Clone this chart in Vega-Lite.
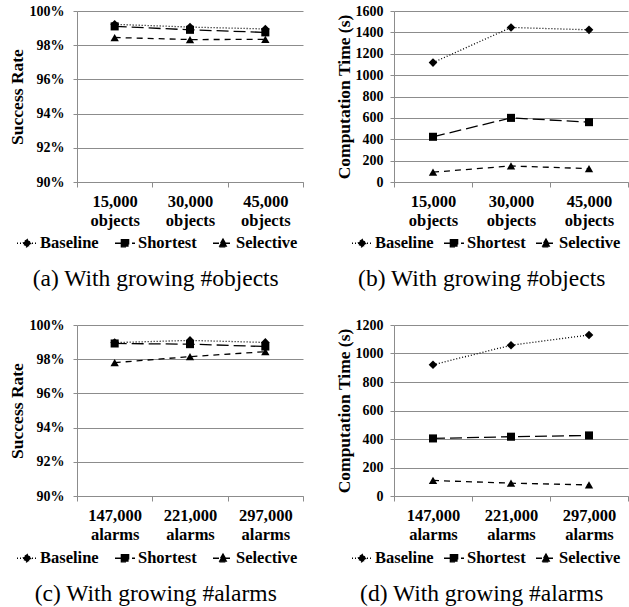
{
  "$schema": "https://vega.github.io/schema/vega-lite/v6.json",
  "background": "white",
  "padding": {"left": 8, "top": 4, "right": 0, "bottom": 0},
  "datasets": {
    "objRate": [
      {"n": "15,000 objects", "method": "Baseline", "value": 99.22},
      {"n": "30,000 objects", "method": "Baseline", "value": 99.06},
      {"n": "45,000 objects", "method": "Baseline", "value": 98.95},
      {"n": "15,000 objects", "method": "Shortest", "value": 99.1},
      {"n": "30,000 objects", "method": "Shortest", "value": 98.9},
      {"n": "45,000 objects", "method": "Shortest", "value": 98.75},
      {"n": "15,000 objects", "method": "Selective", "value": 98.45},
      {"n": "30,000 objects", "method": "Selective", "value": 98.33},
      {"n": "45,000 objects", "method": "Selective", "value": 98.34}
    ],
    "objTime": [
      {"n": "15,000 objects", "method": "Baseline", "value": 1117},
      {"n": "30,000 objects", "method": "Baseline", "value": 1446},
      {"n": "45,000 objects", "method": "Baseline", "value": 1424},
      {"n": "15,000 objects", "method": "Shortest", "value": 423},
      {"n": "30,000 objects", "method": "Shortest", "value": 600},
      {"n": "45,000 objects", "method": "Shortest", "value": 560},
      {"n": "15,000 objects", "method": "Selective", "value": 92},
      {"n": "30,000 objects", "method": "Selective", "value": 150},
      {"n": "45,000 objects", "method": "Selective", "value": 125}
    ],
    "alarmRate": [
      {"n": "147,000 alarms", "method": "Baseline", "value": 98.97},
      {"n": "221,000 alarms", "method": "Baseline", "value": 99.1},
      {"n": "297,000 alarms", "method": "Baseline", "value": 98.98},
      {"n": "147,000 alarms", "method": "Shortest", "value": 98.92},
      {"n": "221,000 alarms", "method": "Shortest", "value": 98.88},
      {"n": "297,000 alarms", "method": "Shortest", "value": 98.74},
      {"n": "147,000 alarms", "method": "Selective", "value": 97.8},
      {"n": "221,000 alarms", "method": "Selective", "value": 98.15},
      {"n": "297,000 alarms", "method": "Selective", "value": 98.44}
    ],
    "alarmTime": [
      {"n": "147,000 alarms", "method": "Baseline", "value": 921},
      {"n": "221,000 alarms", "method": "Baseline", "value": 1058},
      {"n": "297,000 alarms", "method": "Baseline", "value": 1130},
      {"n": "147,000 alarms", "method": "Shortest", "value": 404},
      {"n": "221,000 alarms", "method": "Shortest", "value": 416},
      {"n": "297,000 alarms", "method": "Shortest", "value": 425},
      {"n": "147,000 alarms", "method": "Selective", "value": 109},
      {"n": "221,000 alarms", "method": "Selective", "value": 90},
      {"n": "297,000 alarms", "method": "Selective", "value": 78}
    ]
  },
  "config": {
    "view": {"stroke": null},
    "font": "Liberation Serif",
    "axis": {
      "domainColor": "#8c8c8c",
      "tickColor": "#8c8c8c",
      "gridColor": "#8c8c8c",
      "gridOpacity": 1,
      "labelFont": "Liberation Serif",
      "labelFontWeight": "bold",
      "labelColor": "black",
      "titleFont": "Liberation Serif",
      "titleFontWeight": "bold",
      "titleColor": "black"
    },
    "axisX": {
      "grid": false,
      "tickBand": "extent",
      "tickSize": 5,
      "labelFontSize": 16.5,
      "labelLineHeight": 19,
      "labelPadding": 6,
      "labelAngle": 0,
      "labelExpr": "split(datum.label, ' ')",
      "title": null
    },
    "axisY": {
      "grid": true,
      "tickSize": 4,
      "labelFontSize": 14,
      "titleFontSize": 17.5,
      "titlePadding": 3
    },
    "legend": {
      "orient": "none",
      "direction": "horizontal",
      "title": null,
      "labelFont": "Liberation Serif",
      "labelFontWeight": "bold",
      "labelFontSize": 16.5,
      "labelColor": "black",
      "labelOffset": 2,
      "columnPadding": 12,
      "symbolSize": 400,
      "symbolStrokeWidth": 1.4,
      "symbolStrokeColor": "black",
      "symbolFillColor": "black",
      "symbolType": {"expr": "datum.value === 'Baseline' ? 'M-1,0H1M0,-0.42L0.42,0L0,0.42L-0.42,0Z' : datum.value === 'Shortest' ? 'M-1,0H1M-0.36,-0.36H0.36V0.36H-0.36Z' : 'M-1,0H1M0,-0.42L0.44,0.36H-0.44Z'"},
      "padding": 0
    },
    "title": {
      "orient": "bottom",
      "font": "Liberation Serif",
      "fontWeight": "normal",
      "fontSize": 23.5,
      "color": "black",
      "anchor": "middle",
      "frame": "bounds",
      "offset": 15
    }
  },
  "concat": [
    {
      "title": "(a) With growing #objects",
      "data": {"name": "objRate"},
      "width": 226,
      "height": 171,
      "encoding": {
        "x": {"field": "n", "type": "ordinal", "sort": null, "scale": {"type": "band", "paddingInner": 0, "paddingOuter": 0}},
        "y": {"field": "value", "type": "quantitative", "scale": {"domain": [90, 100]},
              "axis": {"title": "Success Rate", "values": [90, 92, 94, 96, 98, 100], "labelExpr": "datum.value + '%'", "labelPadding": 9}}
      },
      "layer": [
        {"mark": {"type": "line", "color": "black", "strokeWidth": 1.3},
         "encoding": {"strokeDash": {"field": "method", "type": "nominal",
           "scale": {"domain": ["Baseline", "Shortest", "Selective"], "range": [[1, 2], [12, 5], [6, 5]]},
           "legend": {"legendX": -61, "legendY": 221, "columnPadding": 13, "encode": {"symbols": {"update": {"fill": {"value": "black"}, "stroke": {"value": "black"}, "strokeWidth": {"value": 1.4}}}}}}}},
        {"transform": [{"filter": "datum.method === 'Baseline'"}],
         "mark": {"type": "point", "shape": "diamond", "filled": true, "opacity": 1, "color": "black", "size": 75}},
        {"transform": [{"filter": "datum.method === 'Shortest'"}],
         "mark": {"type": "point", "shape": "square", "filled": true, "opacity": 1, "color": "black", "size": 65}},
        {"transform": [{"filter": "datum.method === 'Selective'"}],
         "mark": {"type": "point", "shape": "triangle-up", "filled": true, "opacity": 1, "color": "black", "size": 70}}
      ]
    },
    {
      "title": "(b) With growing #objects",
      "data": {"name": "objTime"},
      "width": 234,
      "height": 171,
      "encoding": {
        "x": {"field": "n", "type": "ordinal", "sort": null, "scale": {"type": "band", "paddingInner": 0, "paddingOuter": 0}},
        "y": {"field": "value", "type": "quantitative", "scale": {"domain": [0, 1600]},
              "axis": {"title": "Computation Time (s)", "values": [0, 200, 400, 600, 800, 1000, 1200, 1400, 1600], "format": "d", "labelPadding": 7, "titlePadding": 2}}
      },
      "layer": [
        {"mark": {"type": "line", "color": "black", "strokeWidth": 1.3},
         "encoding": {"strokeDash": {"field": "method", "type": "nominal",
           "scale": {"domain": ["Baseline", "Shortest", "Selective"], "range": [[1, 2], [12, 5], [6, 5]]},
           "legend": {"legendX": -43, "legendY": 221, "columnPadding": 7, "encode": {"symbols": {"update": {"fill": {"value": "black"}, "stroke": {"value": "black"}, "strokeWidth": {"value": 1.4}}}}}}}},
        {"transform": [{"filter": "datum.method === 'Baseline'"}],
         "mark": {"type": "point", "shape": "diamond", "filled": true, "opacity": 1, "color": "black", "size": 75}},
        {"transform": [{"filter": "datum.method === 'Shortest'"}],
         "mark": {"type": "point", "shape": "square", "filled": true, "opacity": 1, "color": "black", "size": 65}},
        {"transform": [{"filter": "datum.method === 'Selective'"}],
         "mark": {"type": "point", "shape": "triangle-up", "filled": true, "opacity": 1, "color": "black", "size": 70}}
      ]
    },
    {
      "title": "(c) With growing #alarms",
      "data": {"name": "alarmRate"},
      "width": 226,
      "height": 171,
      "encoding": {
        "x": {"field": "n", "type": "ordinal", "sort": null, "scale": {"type": "band", "paddingInner": 0, "paddingOuter": 0}},
        "y": {"field": "value", "type": "quantitative", "scale": {"domain": [90, 100]},
              "axis": {"title": "Success Rate", "values": [90, 92, 94, 96, 98, 100], "labelExpr": "datum.value + '%'", "labelPadding": 9}}
      },
      "layer": [
        {"mark": {"type": "line", "color": "black", "strokeWidth": 1.3},
         "encoding": {"strokeDash": {"field": "method", "type": "nominal",
           "scale": {"domain": ["Baseline", "Shortest", "Selective"], "range": [[1, 2], [12, 5], [6, 5]]},
           "legend": {"legendX": -61, "legendY": 222, "columnPadding": 13, "encode": {"symbols": {"update": {"fill": {"value": "black"}, "stroke": {"value": "black"}, "strokeWidth": {"value": 1.4}}}}}}}},
        {"transform": [{"filter": "datum.method === 'Baseline'"}],
         "mark": {"type": "point", "shape": "diamond", "filled": true, "opacity": 1, "color": "black", "size": 75}},
        {"transform": [{"filter": "datum.method === 'Shortest'"}],
         "mark": {"type": "point", "shape": "square", "filled": true, "opacity": 1, "color": "black", "size": 65}},
        {"transform": [{"filter": "datum.method === 'Selective'"}],
         "mark": {"type": "point", "shape": "triangle-up", "filled": true, "opacity": 1, "color": "black", "size": 70}}
      ]
    },
    {
      "title": "(d) With growing #alarms",
      "data": {"name": "alarmTime"},
      "width": 234,
      "height": 171,
      "encoding": {
        "x": {"field": "n", "type": "ordinal", "sort": null, "scale": {"type": "band", "paddingInner": 0, "paddingOuter": 0}},
        "y": {"field": "value", "type": "quantitative", "scale": {"domain": [0, 1200]},
              "axis": {"title": "Computation Time (s)", "values": [0, 200, 400, 600, 800, 1000, 1200], "format": "d", "labelPadding": 7, "titlePadding": 2}}
      },
      "layer": [
        {"mark": {"type": "line", "color": "black", "strokeWidth": 1.3},
         "encoding": {"strokeDash": {"field": "method", "type": "nominal",
           "scale": {"domain": ["Baseline", "Shortest", "Selective"], "range": [[1, 2], [12, 5], [6, 5]]},
           "legend": {"legendX": -43, "legendY": 222, "columnPadding": 7, "encode": {"symbols": {"update": {"fill": {"value": "black"}, "stroke": {"value": "black"}, "strokeWidth": {"value": 1.4}}}}}}}},
        {"transform": [{"filter": "datum.method === 'Baseline'"}],
         "mark": {"type": "point", "shape": "diamond", "filled": true, "opacity": 1, "color": "black", "size": 75}},
        {"transform": [{"filter": "datum.method === 'Shortest'"}],
         "mark": {"type": "point", "shape": "square", "filled": true, "opacity": 1, "color": "black", "size": 65}},
        {"transform": [{"filter": "datum.method === 'Selective'"}],
         "mark": {"type": "point", "shape": "triangle-up", "filled": true, "opacity": 1, "color": "black", "size": 70}}
      ]
    }
  ],
  "columns": 2,
  "align": "each",
  "spacing": {"row": 27, "column": 31},
  "resolve": {"scale": {"x": "independent", "y": "independent", "strokeDash": "independent"}}
}
